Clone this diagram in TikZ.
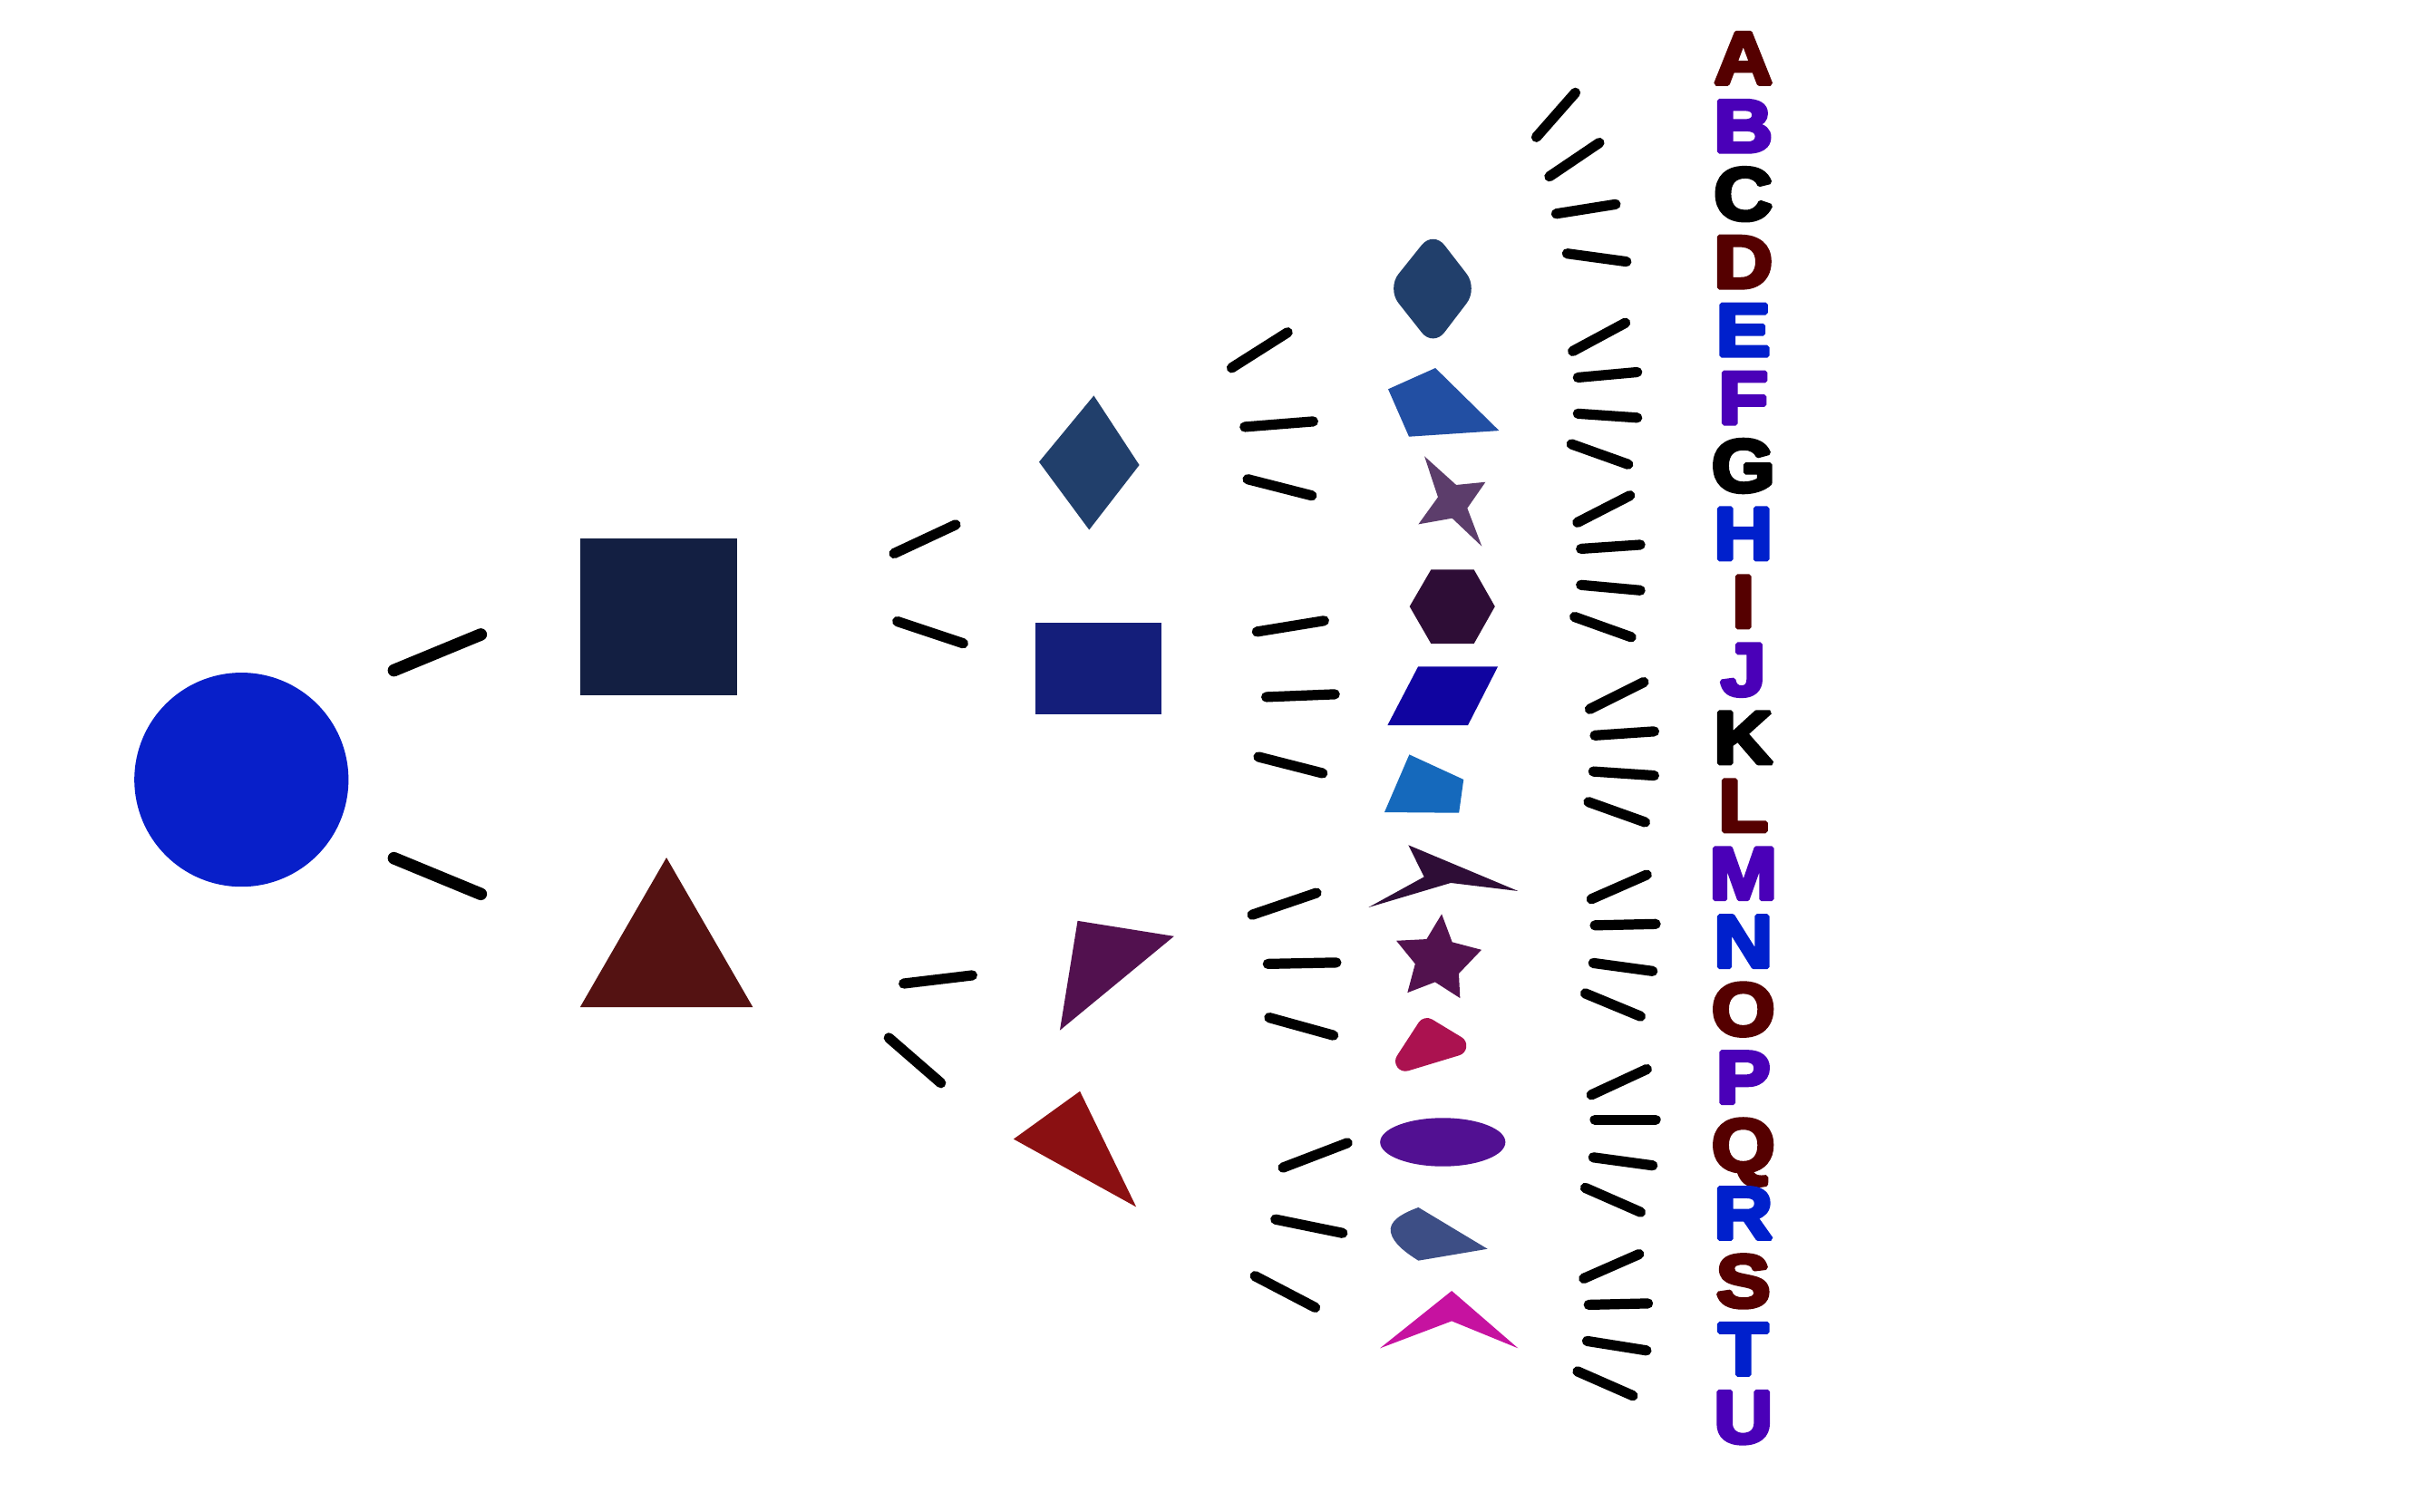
\documentclass[tikz,border=0pt]{standalone}
\usepackage{fontspec}
\newfontfamily\lfont{Liberation Sans}[FakeStretch=1.1]
\usetikzlibrary{shapes.geometric}
\definecolor{cRoot}{HTML}{081FC9}
\definecolor{cSq}{HTML}{131F42}
\definecolor{cTri}{HTML}{541212}
\definecolor{cDia}{HTML}{213F6B}
\definecolor{cRect}{HTML}{141E7A}
\definecolor{cPq}{HTML}{52114F}
\definecolor{cRt}{HTML}{8A1012}
\definecolor{cBq}{HTML}{224FA3}
\definecolor{cSt4}{HTML}{5C3D6B}
\definecolor{cHex}{HTML}{2E0D36}
\definecolor{cPar}{HTML}{1004A0}
\definecolor{cLb}{HTML}{1569BC}
\definecolor{cArr}{HTML}{2E0D36}
\definecolor{cSt5}{HTML}{52124E}
\definecolor{cRtr}{HTML}{AB1250}
\definecolor{cEll}{HTML}{521092}
\definecolor{cSec}{HTML}{3D4E85}
\definecolor{cChev}{HTML}{C612A0}
\definecolor{lRed}{HTML}{550000}
\definecolor{lPur}{HTML}{4A00B8}
\definecolor{lBlu}{HTML}{0020CC}
\newcommand\heavyletter[1]{\special{pdf:literal direct 2 Tr 1.4 w 2 j}#1\special{pdf:literal direct 0 Tr}}
\tikzset{
  edgeA/.style={line width=4pt, line cap=round, black, shorten <=1.8pt, shorten >=1.8pt},
  edgeB/.style={line width=3.3pt, line cap=round, black, shorten <=1.4pt, shorten >=1.4pt},
  letter/.style={font=\lfont\bfseries\fontsize{24}{24}\selectfont, anchor=base, inner sep=0pt},
}
\begin{document}
\begin{tikzpicture}[x=0.5pt,y=-0.5pt]
\useasboundingbox[fill=white] (0,0) rectangle (1568,980);
% level 0 and 1
\node[circle, fill=cRoot, minimum size=69.4pt, inner sep=0pt] (root) at (156.5,505.5) {};
\node[rectangle, fill=cSq, minimum width=51pt, minimum height=51pt, inner sep=0pt] (sq) at (427,400) {};
\fill[cTri] (432,556) -- (488,653) -- (376,653) -- cycle;
% level 2
\fill[cDia] (709,256.5) -- (738.5,301.5) -- (706,343.5) -- (673.5,299.5) -- cycle;
\node[rectangle, fill=cRect, minimum width=41pt, minimum height=29.5pt, inner sep=0pt] (rect) at (712,433.5) {};
\fill[cPq] (698.5,597) -- (761,607) -- (687,668) -- cycle;
\fill[cRt] (700,707.5) -- (736.5,782.5) -- (657,738.5) -- cycle;
% level 3
\fill[cDia, rounded corners=6pt] (929,149.5) -- (958,187) -- (929,225) -- (899,187) -- cycle;
\fill[cBq] (899.8,252.3) -- (930.4,238.6) -- (971.7,279.2) -- (913.3,283.1) -- cycle;
\fill[cSt4] (923.3,295.8) -- (943.9,314.4) -- (962.9,312.5) -- (951.1,329.5) -- (960.5,354.2) -- (941.3,336) -- (919.4,339.9) -- (932.1,322.3) -- cycle;
\fill[cHex] (927.6,369.3) -- (955.4,369.3) -- (969,393.2) -- (955.4,417.3) -- (927.6,417.3) -- (913.7,393.2) -- cycle;
\fill[cPar] (919.2,432.2) -- (970.9,432.2) -- (951.5,470.2) -- (899.4,470.2) -- cycle;
\fill[cLb] (913.5,489.2) -- (948.7,505.4) -- (945.7,527) -- (897.4,526.6) -- cycle;
\fill[cArr] (912.9,547.9) -- (984,577.7) -- (940.4,572.4) -- (887,588.3) -- (923.1,568.5) -- cycle;
\fill[cSt5] (934.5,592.6) -- (941.3,610.8) -- (960.3,615.8) -- (945.6,631.2) -- (946.4,647.1) -- (930.2,636.7) -- (912.3,643.6) -- (917.3,624.9) -- (905.1,609.9) -- (924.7,608.9) -- cycle;
\filldraw[cRtr, line width=6.5pt, line join=round] (925,666.5) -- (944,678) -- (911,688) -- cycle;
\node[ellipse, fill=cEll, minimum width=40.6pt, minimum height=15.7pt, inner sep=0pt] (ell) at (935.2,740.5) {};
\fill[cSec] (919.4,782.8) -- (964.2,809.7) -- (919.4,817.3) .. controls (911,812) and (903,806) .. (901.5,799) .. controls (900,792) and (908,787) .. cycle;
\fill[cChev] (941,836.9) -- (984,874.1) -- (941,856.5) -- (894.5,874.1) -- cycle;
% edges level 1
\foreach \n/\xa/\ya/\xb/\yb in {1/252/436/315/410, 2/252/555/315/581}{
  \coordinate (pa\n) at (\xa,\ya); \coordinate (qa\n) at (\xb,\yb);
  \draw[edgeA] (pa\n) -- (qa\n);
}
% edges level 2 and 3
\foreach \n/\xa/\ya/\xb/\yb in {1/577/360/622/339, 2/579/402/627/418, 3/583/638/633/632, 4/574/671/612/704,
  5/796/240/837/214, 6/804/277/854/273, 7/806/310/853/322, 8/812/410/861/402, 9/818/452/868/450, 10/813/490/860/502,
  11/809/594/856/578, 12/819/625/869/624, 13/820/659/867/672, 14/829/758/876/740, 15/824/790/873/800, 16/811/826/855/849}{
  \coordinate (pb\n) at (\xa,\ya); \coordinate (qb\n) at (\xb,\yb);
  \draw[edgeB] (pb\n) -- (qb\n);
}
% edges level 4
\foreach \n/\xa/\ya/\xb/\yb in {1/994/91/1023/58, 2/1002/116/1039/91, 3/1006/139/1050/132, 4/1013/164/1057/170,
  5/1017/229/1056/208, 6/1020/245/1064/241, 7/1020/268/1064/271, 8/1016/287/1058/302,
  9/1020/340/1059/320, 10/1022/356/1066/353, 11/1022/379/1066/383, 12/1018/399/1060/414,
  13/1028/461/1068/441, 14/1031/477/1075/474, 15/1030/500/1075/503, 16/1027/519/1069/534,
  17/1029/584/1070/566, 18/1031/600/1076/599, 19/1030/624/1074/630, 20/1025/643/1066/660,
  21/1029/711/1070/692, 22/1031/726/1076/726, 23/1030/750/1074/756, 24/1025/769/1066/787,
  25/1024/830/1065/812, 26/1027/846/1071/845, 27/1026/869/1070/876, 28/1020/888/1061/906}{
  \coordinate (pc\n) at (\xa,\ya); \coordinate (qc\n) at (\xb,\yb);
  \draw[edgeB] (pc\n) -- (qc\n);
}
% letters
\foreach \i/\L/\c in {0/A/lRed, 1/B/lPur, 2/C/black, 3/D/lRed, 4/E/lBlu, 5/F/lPur, 6/G/black, 7/H/lBlu,
  8/I/lRed, 9/J/lPur, 10/K/black, 11/L/lRed, 12/M/lPur, 13/N/lBlu, 14/O/lRed, 15/P/lPur, 16/Q/lRed,
  17/R/lBlu, 18/S/lRed, 19/T/lBlu, 20/U/lPur}{
  \node[letter, text=\c] (let\L) at (1130, 54.3+44.05*\i) {\heavyletter{\L}};
}
\end{tikzpicture}
\end{document}
